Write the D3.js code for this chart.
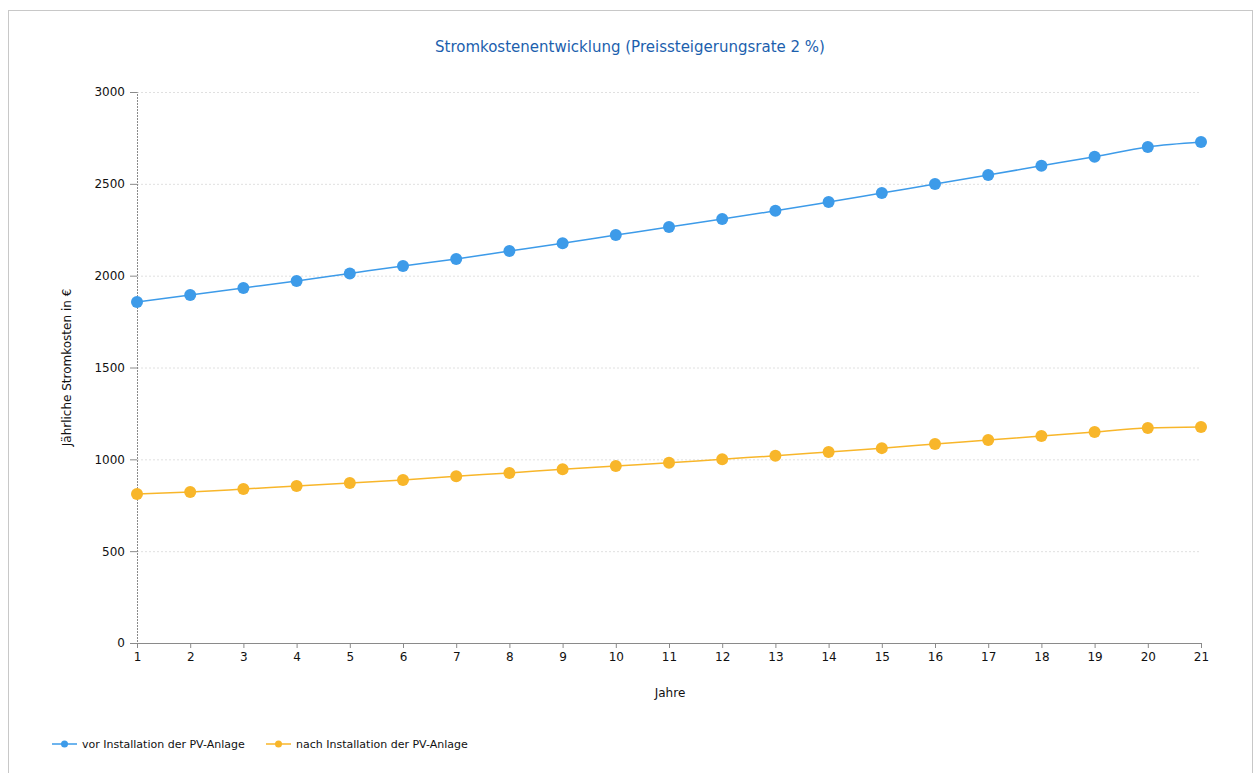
<!DOCTYPE html>
<html>
<head>
<meta charset="utf-8">
<script src="https://cdn.jsdelivr.net/npm/d3@7"></script>
<style>
  body { margin: 0; background: #fff; }
  text { font-family: "DejaVu Sans", Verdana, sans-serif; }
</style>
</head>
<body>
<div id="chart"></div>
<script>
// Jahre 1..21
let years = d3.range(1, 22)
let vorValues = [1857, 1895, 1933, 1971, 2012, 2053, 2091, 2134, 2177, 2221, 2265, 2308, 2353, 2401, 2450, 2499, 2548, 2598, 2648, 2701, 2728]
let nachValues = [811, 822, 838, 855, 871, 888, 908, 926, 946, 964, 981, 1001, 1019, 1040, 1061, 1083, 1105, 1127, 1149, 1171, 1176]
let yTicks = [0, 500, 1000, 1500, 2000, 2500, 3000]
let seriesNames = ['vor Installation der PV-Anlage', 'nach Installation der PV-Anlage']

let W = 1258, H = 773
let margin = {top: 92, left: 137, right: 57, bottom: 130}
let width = W - margin.left - margin.right,
    height = H - margin.top - margin.bottom

let svg = d3.select('#chart').append('svg')
  .attr('width', W).attr('height', H)

// page frame
svg.append('rect')
  .attr('x', 8.5).attr('y', 10.5).attr('width', W - 14).attr('height', H - 8)
  .attr('fill', 'none').attr('stroke', '#c8c8c8')

let g = svg.append('g').attr('transform', 'translate(' + margin.left + ',' + margin.top + ')')

let x = d3.scaleLinear().domain([1, 21]).range([0, width])
let y = d3.scaleLinear().domain([0, 3000]).range([height, 0])

// grid
g.append('g').selectAll('line').data(yTicks.filter(d => d > 0)).enter().append('line')
  .attr('x1', 0).attr('x2', width)
  .attr('y1', d => y(d) + 0.5).attr('y2', d => y(d) + 0.5)
  .attr('stroke', '#e0e0e0').attr('stroke-dasharray', '2,2')

// y axis
let yAxis = g.append('g')
  .call(d3.axisLeft(y).tickValues(yTicks).tickFormat(d3.format('d')).tickSize(7).tickPadding(5))
yAxis.select('.domain').attr('stroke', '#8a8a8a').attr('stroke-dasharray', '2,1')
yAxis.selectAll('.tick line').attr('stroke', '#8a8a8a')
yAxis.selectAll('text').attr('font-size', 12).attr('fill', '#111')

// x axis
let xAxis = g.append('g')
  .attr('transform', 'translate(0,' + height + ')')
  .call(d3.axisBottom(x).tickValues(years).tickFormat(d3.format('d')).tickSize(5).tickPadding(4).tickSizeOuter(0))
xAxis.select('.domain').attr('stroke', '#8a8a8a')
xAxis.selectAll('.tick line').attr('stroke', '#8a8a8a')
xAxis.selectAll('text').attr('font-size', 12).attr('fill', '#111')

let colors = ['#3d9be9', '#f8b62a']
let data = [vorValues, nachValues]

let line = d3.line()
  .curve(d3.curveMonotoneX)
  .x((d, i) => x(years[i]))
  .y(d => y(d))

data.forEach(function(vals, k) {
  g.append('path')
    .attr('d', line(vals))
    .attr('fill', 'none')
    .attr('stroke', colors[k])
    .attr('stroke-width', 1.5)
  g.selectAll('.dot' + k).data(vals).enter().append('circle')
    .attr('class', 'dot' + k)
    .attr('cx', (d, i) => x(years[i]))
    .attr('cy', d => y(d))
    .attr('r', 6)
    .attr('fill', colors[k])
})

// title
svg.append('text')
  .attr('x', 630).attr('y', 52)
  .attr('text-anchor', 'middle')
  .attr('font-size', 15)
  .attr('fill', '#1c5fae')
  .text('Stromkostenentwicklung (Preissteigerungsrate 2 %)')

// axis titles
svg.append('text')
  .attr('transform', 'translate(71,' + (margin.top + height / 2) + ') rotate(-90)')
  .attr('text-anchor', 'middle')
  .attr('font-size', 12).attr('fill', '#111')
  .text('Jährliche Stromkosten in €')

svg.append('text')
  .attr('x', 670).attr('y', 697)
  .attr('text-anchor', 'middle')
  .attr('font-size', 12).attr('fill', '#111')
  .text('Jahre')

// legend
let legendX = [52, 266]
let legend = svg.selectAll('.legend').data(seriesNames).enter().append('g')
  .attr('class', 'legend')
  .attr('transform', (d, i) => 'translate(' + legendX[i] + ',744)')
legend.append('line')
  .attr('x1', 0).attr('x2', 25).attr('y1', 0).attr('y2', 0)
  .attr('stroke', (d, i) => colors[i]).attr('stroke-width', 1.5)
legend.append('circle')
  .attr('cx', 12.5).attr('cy', 0).attr('r', 3.5)
  .attr('fill', (d, i) => colors[i])
legend.append('text')
  .attr('x', 30).attr('y', 4)
  .attr('font-size', 11).attr('fill', '#111')
  .text(d => d)
</script>
</body>
</html>
